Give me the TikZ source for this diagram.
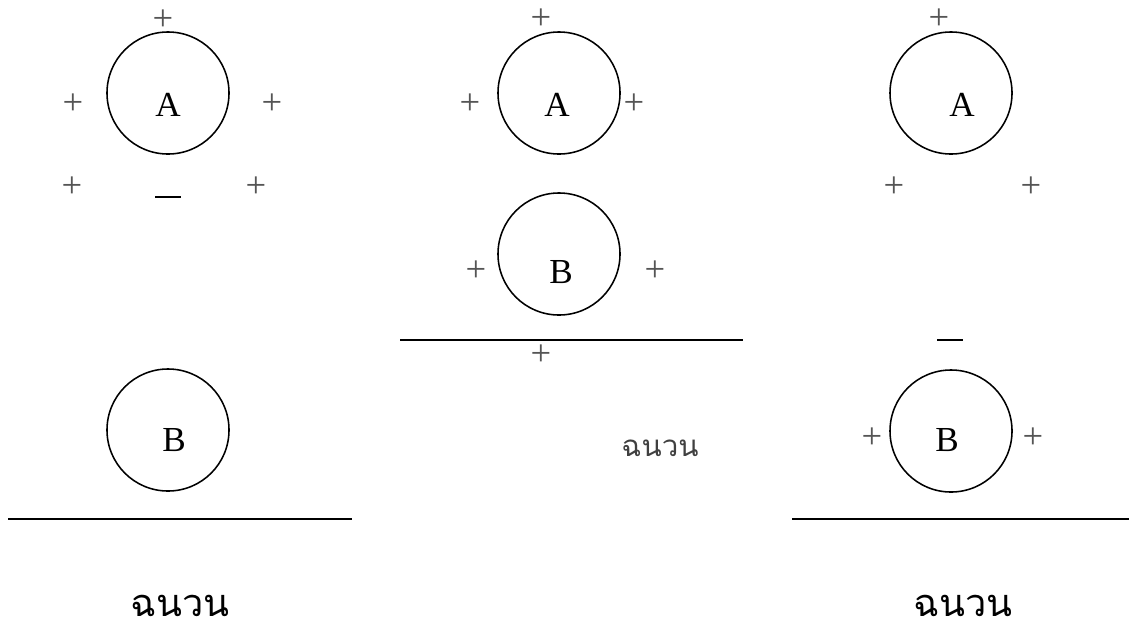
\documentclass[tikz,border=0pt]{standalone}
\usepackage{fontspec}
\setmainfont{Liberation Serif}
\newfontfamily\thaifont[Script=Thai]{Loma}
\usetikzlibrary{positioning}
\definecolor{ChargeGray}{HTML}{555555}
\tikzset{
  ball/.style={
    draw, circle, line width=1.1pt, minimum size=3.05cm, inner sep=0pt,
  },
  ballname/.style={font=\fontsize{25}{25}\selectfont, inner sep=0pt},
  plus/.style={font=\fontsize{26}{26}\selectfont, text=ChargeGray, inner sep=0pt},
  minus/.style={inner sep=0pt},
  ground/.style={line width=1.1pt},
  insul/.style={font=\thaifont\fontsize{27}{30}\selectfont, inner sep=0pt, anchor=base},
  insulsmall/.style={font=\thaifont\fontsize{21}{24}\selectfont, text=black!75, inner sep=0pt},
}
\newcommand{\negcharge}{\rule{18pt}{1.3pt}}
\begin{document}
\begin{tikzpicture}[x=0.025cm, y=-0.025cm]
\useasboundingbox (0,0) rectangle (1129,626);

% ── Panel 1 ──────────────────────────────────────────────
\node[ball] (A1) at (168, 93) {};
\node[ballname] at (168,105) {A};
\node[plus] (A1t)  at (163, 20) {+};
\node[plus] (A1l)  at ( 73,104) {+};
\node[plus] (A1r)  at (272,104) {+};
\node[plus] (A1bl) at ( 72,187) {+};
\node[minus] (A1m) at (168,197) {\negcharge};
\node[plus] (A1br) at (256,187) {+};

\node[ball] (B1) at (168,430) {};
\node[ballname] at (174,440) {B};
\coordinate (G1w) at (  8,519);
\coordinate (G1e) at (352,519);
\draw[ground] (G1w) -- (G1e);
\node[insul] (I1) at (180,616) {ฉนวน};

% ── Panel 2 ──────────────────────────────────────────────
\node[ball] (A2) at (559, 93) {};
\node[ballname] at (557,105) {A};
\node[plus] (A2t) at (541, 19) {+};
\node[plus] (A2l) at (470,104) {+};
\node[plus] (A2r) at (634,104) {+};

\node[ball] (B2) at (559,254) {};
\node[ballname] at (561,272) {B};
\node[plus] (B2l) at (476,271) {+};
\node[plus] (B2r) at (655,271) {+};
\coordinate (G2w) at (400,340);
\coordinate (G2e) at (743,340);
\draw[ground] (G2w) -- (G2e);
\node[plus] (G2p) at (541,355) {+};
\node[insulsmall] (I2) at (660,448) {ฉนวน};

% ── Panel 3 ──────────────────────────────────────────────
\node[ball] (A3) at (951, 93) {};
\node[ballname] at (962,105) {A};
\node[plus] (A3t)  at (939, 19) {+};
\node[plus] (A3bl) at (894,187) {+};
\node[plus] (A3br) at (1031,187) {+};

\node[minus] (B3m) at (950,340) {\negcharge};
\node[ball] (B3) at (951,431) {};
\node[ballname] at (947,440) {B};
\node[plus] (B3l) at (872,438) {+};
\node[plus] (B3r) at (1033,438) {+};
\coordinate (G3w) at ( 792,519);
\coordinate (G3e) at (1129,519);
\draw[ground] (G3w) -- (G3e);
\node[insul] (I3) at (963,616) {ฉนวน};

\end{tikzpicture}
\end{document}
